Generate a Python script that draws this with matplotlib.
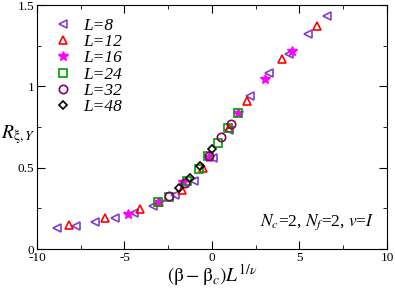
import matplotlib
matplotlib.use("Agg")
import matplotlib.pyplot as plt

plt.rcParams['font.family'] = ['Liberation Serif', 'DejaVu Serif']
plt.rcParams['mathtext.fontset'] = 'stix'

x8 = [-8.86, -7.77, -6.68, -5.56, -4.44, -3.36, -2.1, -1.0, 0.05, 1.0, 2.17, 3.26, 4.4, 5.49, 6.57]
y8 = [0.13, 0.14, 0.165, 0.19, 0.22, 0.265, 0.33, 0.42, 0.56, 0.73, 0.94, 1.08, 1.2, 1.32, 1.43]
x12 = [-8.17, -6.11, -4.1, -3.03, -1.7, -0.5, 0.97, 2.0, 4.0, 6.0]
y12 = [0.15, 0.19, 0.245, 0.29, 0.36, 0.5, 0.745, 0.91, 1.17, 1.37]
x16 = [-4.8, -3.03, -1.66, -0.17, 1.49, 3.03, 4.57]
y16 = [0.215, 0.29, 0.41, 0.565, 0.835, 1.045, 1.22]
x24 = [-3.07, -2.46, -1.4, -0.75, -0.23, 0.37, 0.91, 1.49]
y24 = [0.29, 0.32, 0.42, 0.49, 0.57, 0.65, 0.745, 0.835]
x32 = [-2.43, -1.54, -0.17, 0.51, 1.09]
y32 = [0.325, 0.405, 0.57, 0.69, 0.77]
x48 = [-1.89, -1.23, -0.68, 0.0]
y48 = [0.372, 0.435, 0.51, 0.615]

xticks = [-10, -5, 0, 5, 10]
xticklabels = ['-10', '-5', '0', '5', '10']
yticks = [0, 0.5, 1, 1.5]
yticklabels = ['0', '0.5', '1', '1.5']

series = [
    ("L=8", x8, y8, '<', '#7b3fd6', False),
    ("L=12", x12, y12, '^', '#ff0000', False),
    ("L=16", x16, y16, '*', '#ff00ff', True),
    ("L=24", x24, y24, 's', '#00a000', False),
    ("L=32", x32, y32, 'o', '#880066', False),
    ("L=48", x48, y48, 'D', '#000000', False),
]

fig = plt.figure(figsize=(3.95, 2.89), dpi=100)
ax = fig.add_axes([37/395, 1 - 249/289, (387-37)/395, (249-5)/289])
for lab, xs, ys, m, c, filled in series:
    ms = 6 if m != 'D' else 4.5
    if filled:
        ax.plot(xs, ys, linestyle='none', marker=m, ms=7, color=c, mfc=c, mec=c, label=lab)
    else:
        ax.plot(xs, ys, linestyle='none', marker=m, ms=ms, color=c, mfc='none', mec=c, mew=1.2, label=lab)

ax.set_xlim(-10, 10)
ax.set_ylim(0, 1.5)
ax.set_xticks(xticks)
ax.set_xticklabels(xticklabels)
ax.set_xticks([-7.5, -2.5, 2.5, 7.5], minor=True)
ax.set_yticks(yticks)
ax.set_yticklabels(yticklabels)
ax.set_yticks([0.25, 0.75, 1.25], minor=True)
ax.tick_params(which='both', direction='in', top=True, right=True, labelsize=9.5)
ax.tick_params(which='major', length=6)
ax.tick_params(which='minor', length=3)
ax.tick_params(axis='x', pad=2)
ax.tick_params(axis='y', pad=2)

ax.set_xlabel(r'$(\mathrm{\beta}-\mathrm{\beta}_c)L^{1/\nu}$', fontsize=14, labelpad=-1)
ax.set_ylabel(r'$R_{\mathrm{\xi},Y}$', fontsize=14, rotation=0, va='center')
ax.yaxis.set_label_coords(-0.055, 0.47)

leg = ax.legend(loc='upper left', frameon=False, handletextpad=0.4,
                labelspacing=0.0, borderaxespad=0.3, handlelength=1.5,
                borderpad=0.45, prop={'style': 'italic', 'size': 12.5})
ax.text(0.965, 0.07, r'$N_c$=2, $N_f$=2, $v$=$I$', transform=ax.transAxes,
        ha='right', va='bottom', fontsize=12.5)

fig.savefig('out.png', dpi=100)
